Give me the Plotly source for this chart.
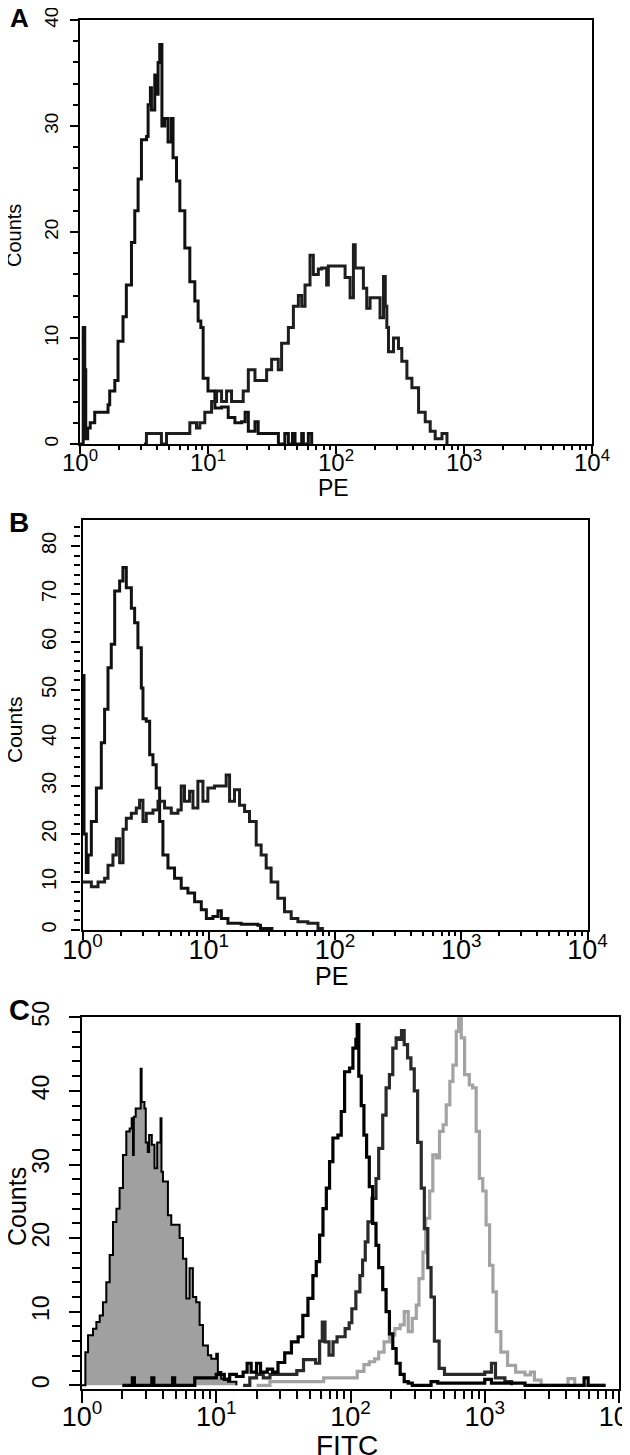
import plotly.graph_objects as go

# ---------------- data (x in log10 units of fluorescence, y = counts) -------------
# Panel A (PE)
a1_log10 = [0.0, 0.025, 0.037, 0.045, 0.06, 0.08, 0.115, 0.19, 0.219, 0.232, 0.272, 0.297, 0.336,
            0.362, 0.402, 0.428, 0.454, 0.48, 0.52, 0.532, 0.55, 0.558, 0.584, 0.6, 0.61, 0.623,
            0.64, 0.662, 0.688, 0.714, 0.727, 0.754, 0.78, 0.819, 0.858, 0.897, 0.923, 0.944,
            0.962, 1.0, 1.054, 1.106, 1.158, 1.21, 1.263, 1.29, 1.315, 1.367, 1.392, 1.419,
            1.524, 1.55, 1.6, 1.628, 1.66, 1.68, 1.732, 1.745, 1.784, 1.81]
a1_counts = [0, 11, 7, 0.5, 1.5, 2, 3, 3, 3.7, 5, 6, 9.7, 12, 15, 19, 22, 25, 28.7, 29, 32, 33.6,
             31.5, 34.8, 33, 36, 37.7, 30, 30.7, 28.5, 30.7, 27, 24.8, 22, 18.5, 15.3, 13.5, 11.6,
             11, 6.2, 5, 3.4, 3.5, 2.5, 2, 2.1, 3, 1.2, 2.1, 1, 1, 1, 0, 1, 0, 1, 0, 1, 0, 1, 0]
a2_log10 = [0.5, 0.519, 0.636, 0.676, 0.793, 0.858, 0.91, 0.936, 0.975, 1.028, 1.067, 1.106, 1.145,
            1.184, 1.236, 1.275, 1.315, 1.367, 1.419, 1.458, 1.497, 1.549, 1.575, 1.628, 1.667,
            1.706, 1.732, 1.758, 1.797, 1.823, 1.862, 1.888, 1.927, 1.94, 1.992, 2.058, 2.071,
            2.11, 2.136, 2.15, 2.175, 2.214, 2.24, 2.266, 2.318, 2.344, 2.371, 2.385, 2.397,
            2.41, 2.449, 2.488, 2.514, 2.554, 2.593, 2.645, 2.697, 2.736, 2.775, 2.828, 2.867]
a2_counts = [0, 1, 0, 1, 1, 2, 1.5, 2, 3, 4, 5, 4, 5, 4, 4, 5, 7, 6, 6, 7, 8, 7, 9.5, 11, 13, 14,
             13, 15, 17.8, 16, 16.5, 16.6, 15, 16.8, 16.8, 16.8, 15.7, 13.8, 18.8, 16.6, 16.6,
             14.7, 12.8, 13.8, 13.8, 11.9, 15.8, 13, 11, 8.7, 10, 9, 7.8, 6.2, 5.3, 3, 2.1, 1.2,
             0.5, 1, 0]

# Panel B (PE)
b1_log10 = [0.0, 0.012, 0.03, 0.044, 0.07, 0.11, 0.149, 0.175, 0.202, 0.228, 0.255, 0.294, 0.32,
            0.347, 0.387, 0.413, 0.439, 0.466, 0.479, 0.505, 0.532, 0.558, 0.584, 0.611, 0.637,
            0.677, 0.729, 0.782, 0.835, 0.888, 0.941, 0.981, 1.033, 1.073, 1.1, 1.152, 1.257,
            1.389, 1.41, 1.5]
b1_counts = [53, 20, 12, 15.6, 22.6, 29.6, 39, 46, 54.6, 59.5, 70.6, 72.7, 75.5, 71.3, 67, 64,
             58.8, 50.4, 44, 43.5, 36.5, 34.4, 29.6, 22.6, 15.6, 12.9, 10.8, 8.7, 7.7, 5.9, 4.2,
             2.4, 2.8, 4, 2.4, 1.4, 1.2, 1, 0.3, 0]
b2_log10 = [0.0, 0.017, 0.07, 0.123, 0.175, 0.202, 0.241, 0.268, 0.294, 0.321, 0.347, 0.387,
            0.426, 0.452, 0.479, 0.505, 0.558, 0.598, 0.65, 0.703, 0.756, 0.782, 0.808, 0.848,
            0.875, 0.914, 0.954, 0.993, 1.046, 1.099, 1.138, 1.165, 1.204, 1.244, 1.284, 1.323,
            1.376, 1.415, 1.455, 1.494, 1.547, 1.6, 1.653, 1.706, 1.785, 1.865, 1.9]
b2_counts = [10, 10, 9, 10, 10.8, 13.5, 15.6, 19, 14, 21, 23.3, 24.3, 25.4, 27, 22.6, 24.3, 25,
             26.8, 25.4, 24.3, 25, 30, 26.8, 28.9, 25.4, 31, 26.8, 29.6, 30, 30, 32.3, 26.8, 29.2,
             26, 24.7, 22.6, 17.7, 15.6, 12.9, 10, 6.6, 3.8, 2.4, 1.7, 1.4, 0.3, 0]

# Panel C (FITC)
c1_log10 = [0.0, 0.007, 0.025, 0.045, 0.082, 0.107, 0.132, 0.156, 0.181, 0.206, 0.231, 0.256,
            0.28, 0.305, 0.33, 0.355, 0.37, 0.38, 0.386, 0.40, 0.437, 0.444, 0.465, 0.475, 0.49,
            0.50, 0.52, 0.54, 0.56, 0.585, 0.592, 0.603, 0.64, 0.665, 0.702, 0.727, 0.752, 0.777,
            0.801, 0.826, 0.851, 0.876, 0.901, 0.938, 0.963, 1.0, 1.012, 1.037, 1.087, 1.15]
c1_counts = [0, 0, 4.5, 6.8, 7.7, 8.6, 9.5, 11.3, 14, 17.7, 22.2, 24, 26.8, 31.3, 34.5, 34.9,
             36.3, 31.3, 36.5, 37.6, 43, 38.5, 37.6, 33, 31.7, 34, 32.7, 29.5, 33, 36.3, 29, 27.7,
             23.1, 21.8, 21.8, 20, 17.2, 11.8, 15.9, 12, 11.3, 8.2, 5.4, 4.1, 3.6, 4.3, 1.8, 0.9,
             0.5, 0]
c2_log10 = [0.3, 0.375, 0.39, 0.52, 0.535, 0.675, 0.69, 0.84, 0.96, 1.0, 1.06, 1.1, 1.15, 1.2,
            1.23, 1.26, 1.3, 1.33, 1.38, 1.42, 1.46, 1.51, 1.56, 1.61, 1.645, 1.683, 1.72, 1.745,
            1.77, 1.795, 1.82, 1.844, 1.869, 1.906, 1.931, 1.956, 1.993, 2.018, 2.04, 2.05,
            2.062, 2.08, 2.1, 2.12, 2.14, 2.165, 2.19, 2.21, 2.24, 2.265, 2.29, 2.315, 2.34,
            2.37, 2.4, 2.43, 2.46, 2.6, 2.65, 3.0, 3.05, 3.3, 3.74, 3.77, 3.9]
c2_counts = [0, 1, 0, 1, 0, 1, 0, 1, 1, 1.5, 0.8, 1.5, 1.2, 1.8, 3, 1.8, 3, 1.8, 2.2, 1.8, 3.1,
             4.4, 5.9, 6.6, 9.5, 11.8, 14.9, 16.8, 20.4, 24, 26.8, 30.4, 33.6, 34, 37.2, 42.6,
             43.1, 45.8, 47, 49, 42, 38, 34, 31, 27, 22, 19, 16, 13, 10, 7, 5, 3, 1.5, 0.5, 0.3,
             0, 0.5, 0.3, 0.8, 0.3, 0, 1, 0, 0]
c3_log10 = [1.2, 1.25, 1.3, 1.35, 1.4, 1.45, 1.55, 1.6, 1.65, 1.74, 1.77, 1.79, 1.81, 1.84, 1.87,
            1.9, 1.96, 1.99, 2.01, 2.04, 2.07, 2.09, 2.11, 2.13, 2.16, 2.19, 2.21, 2.24, 2.265,
            2.29, 2.315, 2.34, 2.36, 2.38, 2.4, 2.425, 2.45, 2.475, 2.5, 2.527, 2.55, 2.576,
            2.6, 2.625, 2.66, 2.7, 3.0, 3.05, 3.08, 3.15, 3.2]
c3_counts = [0, 1, 1.5, 1, 1.5, 1.5, 1.5, 2, 3.5, 3, 6, 8.6, 5.9, 4.1, 5.9, 6.6, 7.7, 8.5, 10.4,
             12.7, 14.9, 17, 19.5, 22.2, 25.4, 28.1, 32.2, 36.7, 40.4, 42.2, 45.8, 47.2, 47, 48.2,
             46.3, 44.5, 43, 40, 33, 26.8, 21.3, 16, 12, 6, 2.3, 1.5, 1.8, 3, 1, 0.5, 0]
c4_log10 = [1.3, 1.4, 1.8, 2.05, 2.1, 2.14, 2.18, 2.21, 2.25, 2.29, 2.33, 2.37, 2.4, 2.43, 2.46,
            2.49, 2.51, 2.54, 2.56, 2.59, 2.613, 2.64, 2.663, 2.69, 2.713, 2.74, 2.763, 2.788,
            2.805, 2.825, 2.85, 2.885, 2.91, 2.936, 2.96, 2.985, 3.01, 3.036, 3.061, 3.086, 3.12,
            3.17, 3.23, 3.3, 3.34, 3.37, 3.42, 3.62, 3.67, 3.9]
c4_counts = [0, 0.5, 1, 1.9, 2.8, 3.2, 3.6, 4.5, 5.9, 6.8, 7.7, 8.2, 10, 7.3, 9.1, 10.9, 14.5,
             18.1, 22.7, 26.4, 31.3, 30.9, 34.5, 35.4, 38.1, 41.3, 43.5, 48.1, 49.9, 47.2, 42.2,
             40.8, 40.4, 34.5, 28.1, 26.4, 21.8, 16.3, 12.7, 7.3, 4.5, 2.7, 1.8, 1.4, 1.8, 0.7, 0,
             0.9, 0, 0]

decade_ticks = [1, 10, 100, 1000, 10000]
decade_text = ["10<sup>0</sup>", "10<sup>1</sup>", "10<sup>2</sup>", "10<sup>3</sup>", "10<sup>4</sup>"]
a_yticks = [0, 10, 20, 30, 40]
b_yticks = [0, 10, 20, 30, 40, 50, 60, 70, 80]
c_yticks = [0, 10, 20, 30, 40, 50]

# ---------------- figure ----------------
W, H = 630, 1455
REG = "Liberation Sans, Arial, Helvetica, sans-serif"

def lin(v):
    return [10 ** d for d in v]

fig = go.Figure()

def step(x, y, axis, color, width, fill=None, fillcolor=None):
    fig.add_trace(go.Scatter(
        x=lin(x), y=y, mode="lines", line=dict(color=color, width=width, shape="hv"),
        fill=fill, fillcolor=fillcolor, xaxis="x" + axis, yaxis="y" + axis,
        showlegend=False, hoverinfo="skip"))

step(a1_log10, a1_counts, "", "#111111", 3)
step(a2_log10, a2_counts, "", "#1e1e1e", 3)
step(b1_log10, b1_counts, "2", "#111111", 3)
step(b2_log10, b2_counts, "2", "#1e1e1e", 3)
step(c1_log10, c1_counts, "3", "#000000", 2, fill="tozeroy", fillcolor="#a0a0a0")
step(c4_log10, c4_counts, "3", "#a3a3a3", 3.2)
step(c3_log10, c3_counts, "3", "#2a2a2a", 3.2)
step(c2_log10, c2_counts, "3", "#000000", 3.2)

minor_x = [m * 10 ** k for k in range(4) for m in range(2, 10)]

def xaxis(left, right, size, ticklen, standoff):
    return dict(domain=[left / W, right / W], type="log", range=[0, 4], automargin=False,
                tickvals=decade_ticks, ticktext=decade_text, ticks="outside",
                ticklen=ticklen, tickwidth=2, tickcolor="black",
                ticklabelstandoff=standoff, ticklabeloverflow="allow",
                tickfont=dict(family=REG, size=size, color="black"),
                showline=True, linewidth=2.4, linecolor="black", mirror=True,
                showgrid=False, zeroline=False,
                minor=dict(tickvals=minor_x, ticks="outside", ticklen=ticklen - 4,
                           tickwidth=2, tickcolor="black", showgrid=False))

def yaxis(top, bottom, rng, tvals, size, ticklen, standoff):
    return dict(domain=[1 - bottom / H, 1 - top / H], range=rng, tickvals=tvals,
                automargin=False, ticklabeloverflow="allow",
                ticks="outside", ticklen=ticklen, tickwidth=2, tickcolor="black",
                tickangle=-90, ticklabelstandoff=standoff,
                tickfont=dict(family=REG, size=size, color="black"),
                showline=True, linewidth=2.4, linecolor="black", mirror=True,
                showgrid=False, zeroline=False,
                minor=dict(dtick=2, tick0=0, ticks="outside", ticklen=ticklen - 3,
                           tickwidth=2, tickcolor="black", showgrid=False))

fig.update_layout(
    width=W, height=H, autosize=False,
    margin=dict(l=0, r=0, t=0, b=0, pad=0),
    paper_bgcolor="white", plot_bgcolor="white",
    xaxis=dict(xaxis(72, 584, 24, 8, -12), anchor="y"),
    yaxis=dict(yaxis(12, 436, [0, 40], a_yticks, 19, 8, 4), anchor="x"),
    xaxis2=dict(xaxis(74.5, 579.5, 27, 8, -14), anchor="y2"),
    yaxis2=dict(yaxis(512, 922, [0, 85.4], b_yticks, 20, 9, 7), anchor="x2"),
    xaxis3=dict(xaxis(74, 611, 27, 12, -10), anchor="y3"),
    yaxis3=dict(yaxis(1009.3, 1381, [-0.5, 50], c_yticks, 23, 11, 11), anchor="x3"),
)

def note(text, px, py, size, angle=0, bold=False):
    fig.add_annotation(text=("<b>%s</b>" % text) if bold else text,
                       x=px / W, y=1 - py / H, xref="paper", yref="paper",
                       showarrow=False, textangle=angle, xanchor="center", yanchor="middle",
                       font=dict(family=REG, size=size, color="black"))

note("A", 11, 10, 26, bold=True)
note("B", 11, 514, 28, bold=True)
note("C", 11, 1002, 29, bold=True)
note("Counts", 6, 228, 20, angle=-90)
note("Counts", 6, 722, 21, angle=-90)
note("Counts", 9, 1199, 25, angle=-90)
note("PE", 325, 480, 23)
note("PE", 323, 968, 25)
note("FITC", 339, 1437, 28)

fig.write_html("out.html")
